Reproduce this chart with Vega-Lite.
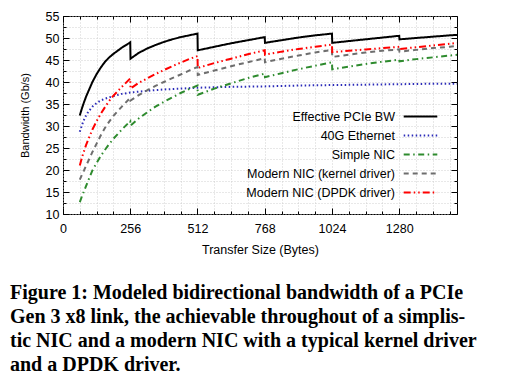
{
  "$schema": "https://vega.github.io/schema/vega-lite/v6.json",
  "width": 394,
  "height": 198,
  "autosize": "none",
  "padding": {"left": 63, "top": 16, "right": 50, "bottom": 168},
  "background": "white",
  "config": {"view": {"stroke": "black", "strokeWidth": 1}, "font": "Liberation Sans"},
  "title": {
    "text": ["Figure 1: Modeled bidirectional bandwidth of a PCIe", "Gen 3 x8 link, the achievable throughout of a simplis-", "tic NIC and a modern NIC with a typical kernel driver", "and a DPDK driver."],
    "orient": "bottom", "anchor": "start", "frame": "group", "dx": -53, "offset": 27,
    "font": "Liberation Serif", "fontSize": 20, "fontWeight": "bold", "lineHeight": 24, "color": "black"
  },
  "data": {"values": [
    {"series":"Effective PCIe BW","x":64,"y":32.4},{"series":"Effective PCIe BW","x":72,"y":34.0},{"series":"Effective PCIe BW","x":80,"y":35.4},{"series":"Effective PCIe BW","x":88,"y":36.7},{"series":"Effective PCIe BW","x":96,"y":37.8},{"series":"Effective PCIe BW","x":112,"y":40.0},{"series":"Effective PCIe BW","x":128,"y":41.8},{"series":"Effective PCIe BW","x":144,"y":43.3},{"series":"Effective PCIe BW","x":160,"y":44.6},{"series":"Effective PCIe BW","x":176,"y":45.6},{"series":"Effective PCIe BW","x":192,"y":46.4},{"series":"Effective PCIe BW","x":224,"y":47.8},{"series":"Effective PCIe BW","x":256,"y":49.0},{"series":"Effective PCIe BW","x":257,"y":45.3},{"series":"Effective PCIe BW","x":288,"y":46.6},{"series":"Effective PCIe BW","x":320,"y":47.6},{"series":"Effective PCIe BW","x":352,"y":48.4},{"series":"Effective PCIe BW","x":384,"y":49.1},{"series":"Effective PCIe BW","x":416,"y":49.7},{"series":"Effective PCIe BW","x":448,"y":50.2},{"series":"Effective PCIe BW","x":480,"y":50.6},{"series":"Effective PCIe BW","x":512,"y":51.0},{"series":"Effective PCIe BW","x":513,"y":47.2},{"series":"Effective PCIe BW","x":576,"y":48.0},{"series":"Effective PCIe BW","x":640,"y":48.8},{"series":"Effective PCIe BW","x":704,"y":49.5},{"series":"Effective PCIe BW","x":768,"y":50.2},{"series":"Effective PCIe BW","x":769,"y":48.9},{"series":"Effective PCIe BW","x":832,"y":49.5},{"series":"Effective PCIe BW","x":896,"y":50.1},{"series":"Effective PCIe BW","x":960,"y":50.6},{"series":"Effective PCIe BW","x":1024,"y":51.0},{"series":"Effective PCIe BW","x":1025,"y":48.9},{"series":"Effective PCIe BW","x":1088,"y":49.3},{"series":"Effective PCIe BW","x":1152,"y":49.7},{"series":"Effective PCIe BW","x":1216,"y":50.1},{"series":"Effective PCIe BW","x":1280,"y":50.5},{"series":"Effective PCIe BW","x":1281,"y":49.7},{"series":"Effective PCIe BW","x":1344,"y":50.0},{"series":"Effective PCIe BW","x":1408,"y":50.3},{"series":"Effective PCIe BW","x":1472,"y":50.6},{"series":"Effective PCIe BW","x":1500,"y":50.7},
    {"series":"40G Ethernet","x":64,"y":28.7},{"series":"40G Ethernet","x":72,"y":30.2},{"series":"40G Ethernet","x":80,"y":31.4},{"series":"40G Ethernet","x":88,"y":32.4},{"series":"40G Ethernet","x":96,"y":33.2},{"series":"40G Ethernet","x":112,"y":34.4},{"series":"40G Ethernet","x":128,"y":35.2},{"series":"40G Ethernet","x":144,"y":35.8},{"series":"40G Ethernet","x":160,"y":36.2},{"series":"40G Ethernet","x":192,"y":36.8},{"series":"40G Ethernet","x":224,"y":37.3},{"series":"40G Ethernet","x":256,"y":37.6},{"series":"40G Ethernet","x":320,"y":38.0},{"series":"40G Ethernet","x":384,"y":38.3},{"series":"40G Ethernet","x":448,"y":38.5},{"series":"40G Ethernet","x":512,"y":38.7},{"series":"40G Ethernet","x":640,"y":38.9},{"series":"40G Ethernet","x":768,"y":39.0},{"series":"40G Ethernet","x":896,"y":39.2},{"series":"40G Ethernet","x":1024,"y":39.3},{"series":"40G Ethernet","x":1152,"y":39.4},{"series":"40G Ethernet","x":1280,"y":39.5},{"series":"40G Ethernet","x":1408,"y":39.6},{"series":"40G Ethernet","x":1500,"y":39.6},
    {"series":"Simple NIC","x":64,"y":12.7},{"series":"Simple NIC","x":72,"y":14.0},{"series":"Simple NIC","x":80,"y":15.2},{"series":"Simple NIC","x":88,"y":16.4},{"series":"Simple NIC","x":96,"y":17.6},{"series":"Simple NIC","x":112,"y":19.9},{"series":"Simple NIC","x":128,"y":21.6},{"series":"Simple NIC","x":144,"y":23.2},{"series":"Simple NIC","x":160,"y":24.6},{"series":"Simple NIC","x":176,"y":25.9},{"series":"Simple NIC","x":192,"y":27.1},{"series":"Simple NIC","x":224,"y":29.2},{"series":"Simple NIC","x":256,"y":31.1},{"series":"Simple NIC","x":257,"y":30.1},{"series":"Simple NIC","x":288,"y":31.7},{"series":"Simple NIC","x":320,"y":33.1},{"series":"Simple NIC","x":352,"y":34.4},{"series":"Simple NIC","x":384,"y":35.5},{"series":"Simple NIC","x":416,"y":36.5},{"series":"Simple NIC","x":448,"y":37.5},{"series":"Simple NIC","x":480,"y":38.4},{"series":"Simple NIC","x":512,"y":39.2},{"series":"Simple NIC","x":513,"y":37.1},{"series":"Simple NIC","x":576,"y":38.5},{"series":"Simple NIC","x":640,"y":39.7},{"series":"Simple NIC","x":704,"y":40.9},{"series":"Simple NIC","x":768,"y":41.9},{"series":"Simple NIC","x":769,"y":41.1},{"series":"Simple NIC","x":832,"y":42.0},{"series":"Simple NIC","x":896,"y":42.9},{"series":"Simple NIC","x":960,"y":43.7},{"series":"Simple NIC","x":1024,"y":44.5},{"series":"Simple NIC","x":1025,"y":42.9},{"series":"Simple NIC","x":1088,"y":43.5},{"series":"Simple NIC","x":1152,"y":44.1},{"series":"Simple NIC","x":1216,"y":44.6},{"series":"Simple NIC","x":1280,"y":45.1},{"series":"Simple NIC","x":1281,"y":44.7},{"series":"Simple NIC","x":1344,"y":45.2},{"series":"Simple NIC","x":1408,"y":45.6},{"series":"Simple NIC","x":1472,"y":46.0},{"series":"Simple NIC","x":1500,"y":46.2},
    {"series":"Modern NIC (kernel driver)","x":64,"y":17.8},{"series":"Modern NIC (kernel driver)","x":72,"y":18.9},{"series":"Modern NIC (kernel driver)","x":80,"y":19.9},{"series":"Modern NIC (kernel driver)","x":88,"y":21.0},{"series":"Modern NIC (kernel driver)","x":96,"y":22.0},{"series":"Modern NIC (kernel driver)","x":112,"y":24.1},{"series":"Modern NIC (kernel driver)","x":128,"y":26.0},{"series":"Modern NIC (kernel driver)","x":144,"y":27.9},{"series":"Modern NIC (kernel driver)","x":160,"y":29.6},{"series":"Modern NIC (kernel driver)","x":176,"y":31.0},{"series":"Modern NIC (kernel driver)","x":192,"y":32.3},{"series":"Modern NIC (kernel driver)","x":224,"y":34.4},{"series":"Modern NIC (kernel driver)","x":256,"y":36.4},{"series":"Modern NIC (kernel driver)","x":257,"y":35.8},{"series":"Modern NIC (kernel driver)","x":288,"y":37.0},{"series":"Modern NIC (kernel driver)","x":320,"y":38.1},{"series":"Modern NIC (kernel driver)","x":352,"y":39.1},{"series":"Modern NIC (kernel driver)","x":384,"y":40.0},{"series":"Modern NIC (kernel driver)","x":416,"y":40.9},{"series":"Modern NIC (kernel driver)","x":448,"y":41.7},{"series":"Modern NIC (kernel driver)","x":480,"y":42.6},{"series":"Modern NIC (kernel driver)","x":512,"y":43.4},{"series":"Modern NIC (kernel driver)","x":513,"y":41.6},{"series":"Modern NIC (kernel driver)","x":576,"y":42.6},{"series":"Modern NIC (kernel driver)","x":640,"y":43.6},{"series":"Modern NIC (kernel driver)","x":704,"y":44.5},{"series":"Modern NIC (kernel driver)","x":768,"y":45.4},{"series":"Modern NIC (kernel driver)","x":769,"y":44.5},{"series":"Modern NIC (kernel driver)","x":832,"y":45.3},{"series":"Modern NIC (kernel driver)","x":896,"y":46.0},{"series":"Modern NIC (kernel driver)","x":960,"y":46.7},{"series":"Modern NIC (kernel driver)","x":1024,"y":47.3},{"series":"Modern NIC (kernel driver)","x":1025,"y":45.7},{"series":"Modern NIC (kernel driver)","x":1088,"y":46.2},{"series":"Modern NIC (kernel driver)","x":1152,"y":46.7},{"series":"Modern NIC (kernel driver)","x":1216,"y":47.1},{"series":"Modern NIC (kernel driver)","x":1280,"y":47.4},{"series":"Modern NIC (kernel driver)","x":1281,"y":46.9},{"series":"Modern NIC (kernel driver)","x":1344,"y":47.3},{"series":"Modern NIC (kernel driver)","x":1408,"y":47.7},{"series":"Modern NIC (kernel driver)","x":1472,"y":48.0},{"series":"Modern NIC (kernel driver)","x":1500,"y":48.2},
    {"series":"Modern NIC (DPDK driver)","x":64,"y":21.0},{"series":"Modern NIC (DPDK driver)","x":72,"y":22.8},{"series":"Modern NIC (DPDK driver)","x":80,"y":24.3},{"series":"Modern NIC (DPDK driver)","x":88,"y":25.7},{"series":"Modern NIC (DPDK driver)","x":96,"y":26.9},{"series":"Modern NIC (DPDK driver)","x":112,"y":29.2},{"series":"Modern NIC (DPDK driver)","x":128,"y":31.1},{"series":"Modern NIC (DPDK driver)","x":144,"y":32.8},{"series":"Modern NIC (DPDK driver)","x":160,"y":34.3},{"series":"Modern NIC (DPDK driver)","x":176,"y":35.7},{"series":"Modern NIC (DPDK driver)","x":192,"y":36.9},{"series":"Modern NIC (DPDK driver)","x":224,"y":38.9},{"series":"Modern NIC (DPDK driver)","x":256,"y":40.8},{"series":"Modern NIC (DPDK driver)","x":257,"y":38.5},{"series":"Modern NIC (DPDK driver)","x":288,"y":39.8},{"series":"Modern NIC (DPDK driver)","x":320,"y":40.8},{"series":"Modern NIC (DPDK driver)","x":352,"y":41.8},{"series":"Modern NIC (DPDK driver)","x":384,"y":42.7},{"series":"Modern NIC (DPDK driver)","x":416,"y":43.6},{"series":"Modern NIC (DPDK driver)","x":448,"y":44.4},{"series":"Modern NIC (DPDK driver)","x":480,"y":45.2},{"series":"Modern NIC (DPDK driver)","x":512,"y":45.9},{"series":"Modern NIC (DPDK driver)","x":513,"y":43.2},{"series":"Modern NIC (DPDK driver)","x":576,"y":44.3},{"series":"Modern NIC (DPDK driver)","x":640,"y":45.3},{"series":"Modern NIC (DPDK driver)","x":704,"y":46.3},{"series":"Modern NIC (DPDK driver)","x":768,"y":47.2},{"series":"Modern NIC (DPDK driver)","x":769,"y":46.2},{"series":"Modern NIC (DPDK driver)","x":832,"y":46.9},{"series":"Modern NIC (DPDK driver)","x":896,"y":47.5},{"series":"Modern NIC (DPDK driver)","x":960,"y":48.0},{"series":"Modern NIC (DPDK driver)","x":1024,"y":48.5},{"series":"Modern NIC (DPDK driver)","x":1025,"y":46.8},{"series":"Modern NIC (DPDK driver)","x":1088,"y":47.1},{"series":"Modern NIC (DPDK driver)","x":1152,"y":47.4},{"series":"Modern NIC (DPDK driver)","x":1216,"y":47.7},{"series":"Modern NIC (DPDK driver)","x":1280,"y":48.0},{"series":"Modern NIC (DPDK driver)","x":1281,"y":47.5},{"series":"Modern NIC (DPDK driver)","x":1344,"y":47.9},{"series":"Modern NIC (DPDK driver)","x":1408,"y":48.3},{"series":"Modern NIC (DPDK driver)","x":1472,"y":48.7},{"series":"Modern NIC (DPDK driver)","x":1500,"y":48.9}
  ]},
  "resolve": {"axis": {"x": "independent", "y": "independent"}},
  "layer": [
    {
      "mark": {"type": "line", "strokeWidth": 2, "clip": true},
      "encoding": {
        "x": {"field": "x", "type": "quantitative",
          "scale": {"domain": [0, 1500], "nice": false, "zero": false},
          "axis": {"orient": "bottom", "values": [0,64,128,192,256,320,384,448,512,576,640,704,768,832,896,960,1024,1088,1152,1216,1280,1344,1408,1472],
            "grid": true, "gridColor": "#c4c4c4", "gridDash": [1, 2], "gridWidth": 0.8,
            "domain": false, "tickSize": -3, "tickColor": "black", "tickWidth": 1,
            "format": "d", "labelExpr": "datum.value % 256 === 0 ? datum.label : ''",
            "labelFont": "Liberation Sans", "labelFontSize": 12.5, "labelColor": "black", "labelPadding": 11, "labelFlush": false, "labelOverlap": false,
            "title": "Transfer Size (Bytes)", "titleFont": "Liberation Sans", "titleFontSize": 12.5, "titleFontWeight": "normal", "titleColor": "black", "titlePadding": 9}},
        "y": {"field": "y", "type": "quantitative",
          "scale": {"domain": [10, 55], "nice": false, "zero": false},
          "axis": {"orient": "left", "values": [10,12.5,15,17.5,20,22.5,25,27.5,30,32.5,35,37.5,40,42.5,45,47.5,50,52.5,55],
            "grid": true, "gridColor": "#c4c4c4", "gridDash": [1, 2], "gridWidth": 0.8,
            "domain": false, "tickSize": -3, "tickColor": "black", "tickWidth": 1,
            "labelExpr": "datum.value % 5 === 0 ? datum.label : ''",
            "labelFont": "Liberation Sans", "labelFontSize": 12.5, "labelColor": "black", "labelPadding": 7, "labelFlush": false, "labelOverlap": false,
            "title": "Bandwidth (Gb/s)", "titleFont": "Liberation Sans", "titleFontSize": 11, "titleFontWeight": "normal", "titleColor": "black", "titlePadding": 15}},
        "color": {"field": "series", "type": "nominal",
          "scale": {"domain": ["Effective PCIe BW", "40G Ethernet", "Simple NIC", "Modern NIC (kernel driver)", "Modern NIC (DPDK driver)"],
                    "range": ["#000000", "#2b2bb8", "#2e8b2e", "#6e6e6e", "#ff0000"]},
          "legend": {"orient": "none", "legendX": 346, "legendY": 89, "title": null,
            "symbolType": "M-1.6,0H1.6", "symbolSize": 441, "symbolStrokeWidth": 2,
            "labelFont": "Liberation Sans", "labelFontSize": 12.5, "labelColor": "black",
            "labelAlign": "right", "labelOffset": -37, "rowPadding": 1}},
        "strokeDash": {"field": "series", "type": "nominal",
          "scale": {"domain": ["Effective PCIe BW", "40G Ethernet", "Simple NIC", "Modern NIC (kernel driver)", "Modern NIC (DPDK driver)"],
                    "range": [[1, 0], [1.5, 2.5], [6, 3.5, 1.5, 3.5], [5, 4], [7, 3, 1.5, 3, 1.5, 3]]},
          "legend": null}
      }
    },
    {
      "mark": {"type": "point", "opacity": 0, "size": 0},
      "encoding": {
        "x": {"field": "x", "type": "quantitative",
          "axis": {"orient": "bottom", "values": [0,256,512,768,1024,1280], "grid": false, "domain": false, "labels": false, "tickSize": -6, "tickColor": "black", "tickWidth": 1, "title": null}},
        "y": {"field": "y", "type": "quantitative",
          "axis": {"orient": "left", "values": [10,15,20,25,30,35,40,45,50,55], "grid": false, "domain": false, "labels": false, "tickSize": -6, "tickColor": "black", "tickWidth": 1, "title": null}}
      }
    },
    {
      "mark": {"type": "point", "opacity": 0, "size": 0},
      "encoding": {
        "x": {"field": "x", "type": "quantitative",
          "axis": {"orient": "top", "values": [0,64,128,192,256,320,384,448,512,576,640,704,768,832,896,960,1024,1088,1152,1216,1280,1344,1408,1472], "grid": false, "domain": false, "labels": false, "tickSize": -3, "tickColor": "black", "tickWidth": 1, "title": null}},
        "y": {"field": "y", "type": "quantitative",
          "axis": {"orient": "right", "values": [10,12.5,15,17.5,20,22.5,25,27.5,30,32.5,35,37.5,40,42.5,45,47.5,50,52.5,55], "grid": false, "domain": false, "labels": false, "tickSize": -3, "tickColor": "black", "tickWidth": 1, "title": null}}
      }
    },
    {
      "mark": {"type": "point", "opacity": 0, "size": 0},
      "encoding": {
        "x": {"field": "x", "type": "quantitative",
          "axis": {"orient": "top", "values": [0,256,512,768,1024,1280], "grid": false, "domain": false, "labels": false, "tickSize": -6, "tickColor": "black", "tickWidth": 1, "title": null}},
        "y": {"field": "y", "type": "quantitative",
          "axis": {"orient": "right", "values": [10,15,20,25,30,35,40,45,50,55], "grid": false, "domain": false, "labels": false, "tickSize": -6, "tickColor": "black", "tickWidth": 1, "title": null}}
      }
    }
  ]
}
